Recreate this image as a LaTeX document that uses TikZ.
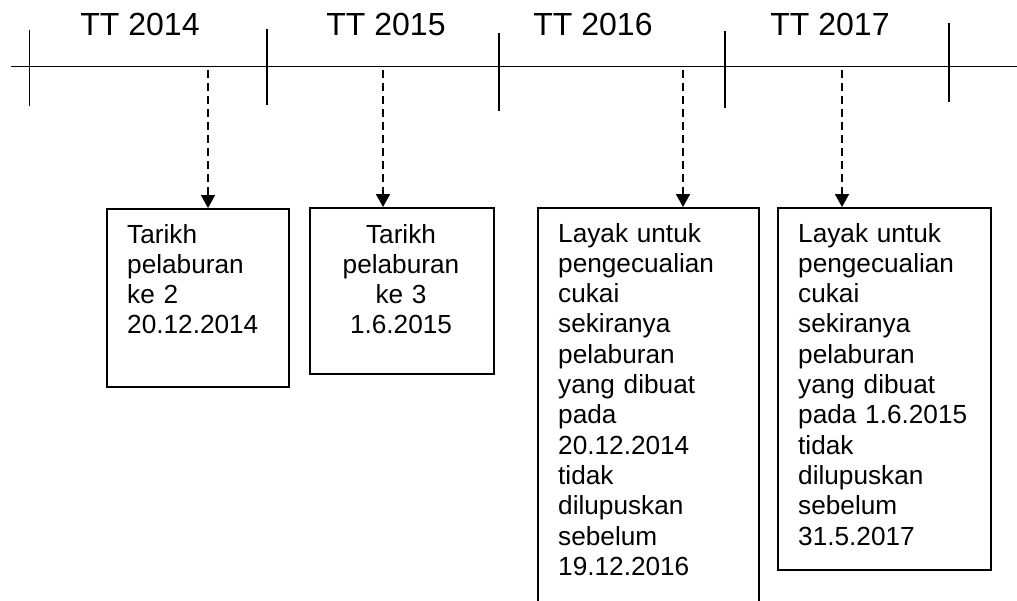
\documentclass[tikz,border=0pt]{standalone}
\usepackage{fontspec}
\setmainfont{Liberation Sans}
\usetikzlibrary{arrows.meta}
\begin{document}
\begin{tikzpicture}[x=1pt,y=-1pt,
  axis/.style={line width=1.6pt,black},
  tick/.style={line width=1.6pt,black},
  yearlbl/.style={font=\fontsize{32}{38}\selectfont,anchor=base,inner sep=0pt},
  box/.style={draw,line width=1.6pt,inner sep=0pt,anchor=north west},
  boxtxt/.style={font=\fontsize{26.2}{30.3}\selectfont,inner sep=0pt,text width=#1},
  dasharrow/.style={line width=1.8pt,dash pattern=on 8pt off 5pt,-{Triangle[width=14pt,length=13pt,sep=0pt]}}
]
\useasboundingbox (0,0) rectangle (1017,600);
% timeline
\coordinate (L0) at (11,66.5);
\coordinate (L1) at (1017,66.5);
\draw[axis] (L0) -- (L1);
\coordinate (t1a) at (29.5,30);  \coordinate (t1b) at (29.5,106);
\coordinate (t2a) at (267,29);   \coordinate (t2b) at (267,105);
\coordinate (t3a) at (499,33);   \coordinate (t3b) at (499,111);
\coordinate (t4a) at (725,31);   \coordinate (t4b) at (725,108);
\coordinate (t5a) at (949,23);   \coordinate (t5b) at (949,102);
\draw[tick] (t1a) -- (t1b);
\draw[tick] (t2a) -- (t2b);
\draw[tick] (t3a) -- (t3b);
\draw[tick] (t4a) -- (t4b);
\draw[tick] (t5a) -- (t5b);
% year labels
\node[yearlbl] (y14) at (140,35) {TT 2014};
\node[yearlbl] (y15) at (386,35) {TT 2015};
\node[yearlbl] (y16) at (593,35) {TT 2016};
\node[yearlbl] (y17) at (830,35) {TT 2017};
% boxes
\node[box,minimum width=182pt,minimum height=178pt] (b1) at (106,208) {};
\node[box,minimum width=184pt,minimum height=166pt] (b2) at (309,207) {};
\node[box,minimum width=221pt,minimum height=410pt] (b3) at (537,207) {};
\node[box,minimum width=213pt,minimum height=362pt] (b4) at (777,207) {};
% box texts
\node[boxtxt=160pt,anchor=base west,align=left] (x1) at (127,243)
  {Tarikh\\pelaburan\\ke 2\\20.12.2014};
\node[boxtxt=170pt,anchor=base,align=center] (x2) at (401,243)
  {Tarikh\\pelaburan\\ke 3\\1.6.2015};
\node[boxtxt=190pt,anchor=base west,align=left] (x3) at (558,242)
  {Layak untuk\\pengecualian\\cukai\\sekiranya\\pelaburan\\yang dibuat\\pada\\20.12.2014\\tidak\\dilupuskan\\sebelum\\19.12.2016};
\node[boxtxt=185pt,anchor=base west,align=left] (x4) at (798,242)
  {Layak untuk\\pengecualian\\cukai\\sekiranya\\pelaburan\\yang dibuat\\pada 1.6.2015\\tidak\\dilupuskan\\sebelum\\31.5.2017};
% arrows
\coordinate (a1) at (208,70);
\coordinate (a2) at (383,70);
\coordinate (a3) at (683,70);
\coordinate (a4) at (842,70);
\draw[dasharrow] (a1) -- (a1 |- b1.north);
\draw[dasharrow] (a2) -- (a2 |- b2.north);
\draw[dasharrow] (a3) -- (a3 |- b3.north);
\draw[dasharrow] (a4) -- (a4 |- b4.north);
\end{tikzpicture}
\end{document}
